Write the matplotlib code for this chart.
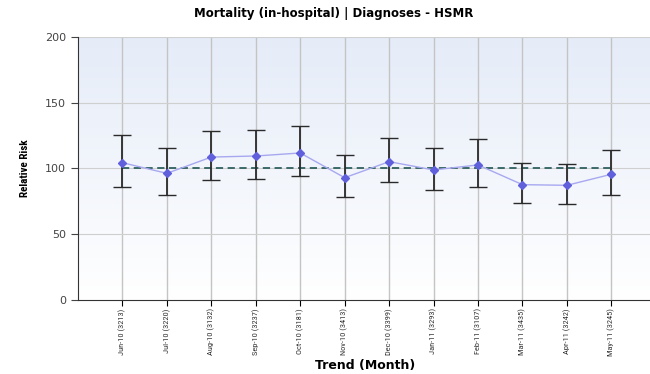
import numpy as np
import matplotlib.pyplot as plt

# values
months = ['Jun-10 (3213)', 'Jul-10 (3220)', 'Aug-10 (3132)', 'Sep-10 (3237)',
          'Oct-10 (3181)', 'Nov-10 (3413)', 'Dec-10 (3399)', 'Jan-11 (3293)',
          'Feb-11 (3107)', 'Mar-11 (3435)', 'Apr-11 (3242)', 'May-11 (3245)']
risk = [104.4, 96.3, 108.7, 109.5, 111.8, 93.0, 105.2, 98.9, 102.7, 87.7, 87.2, 95.6]
upper = [125.7, 115.8, 128.8, 129.5, 132.0, 110.5, 123.0, 115.8, 122.2, 104.4, 103.4, 113.8]
lower = [86.0, 79.6, 91.0, 91.8, 94.0, 78.0, 89.5, 83.9, 86.0, 73.5, 73.0, 79.6]
baseline = 100

narrow = ['Roboto Condensed', 'DejaVu Sans']

fig = plt.figure(figsize=(6.5, 3.74), dpi=100)
ax = fig.add_axes([0.12, 0.198, 0.88, 0.703])

x = np.arange(len(months))
risk = np.array(risk)
err = [risk - np.array(lower), np.array(upper) - risk]
xmax = 11.87

# background gradient, white at the bottom to pale blue at the top
grad = np.linspace(0, 1, 256).reshape(-1, 1)
top = np.array([0.898, 0.925, 0.973])
bot = np.array([1.0, 1.0, 1.0])
img = bot + (top - bot) * grad
ax.imshow(img[:, None, :].repeat(2, axis=1), origin='lower', aspect='auto',
          extent=[-1, xmax, 0, 200], zorder=0)

for xi in x:
    ax.axvline(xi, color='#c4c4c4', lw=1, zorder=1)
for yv in [50, 100, 150, 200]:
    ax.axhline(yv, color='#cfcfcf', lw=0.8, zorder=1)

ax.plot([x[0], x[-1]], [baseline, baseline], color='#2f6060', lw=1.3,
        ls=(0, (4, 2.5)), zorder=3)
ax.errorbar(x, risk, yerr=err, fmt='none', ecolor='#2a2a2a', elinewidth=1.3,
            capsize=6.5, capthick=1.0, zorder=4)
ax.plot(x, risk, color='#a8a8f0', lw=1, marker='D', markersize=4.3,
        markerfacecolor='#6060dd', markeredgecolor='#6060dd', zorder=5)

ax.set_xlim(-1, xmax)
ax.set_ylim(0, 200)
ax.set_yticks([0, 50, 100, 150, 200])
ax.set_xticks(x)
ax.set_xticklabels(months, rotation=90, family=narrow, fontsize=6, color='#333333')
ax.tick_params(axis='y', labelsize=8, colors='#444444', length=5, width=0.8)
ax.tick_params(axis='x', length=4, width=0.8, pad=2)

for s in ['top', 'right']:
    ax.spines[s].set_visible(False)
ax.spines['left'].set_color('#333333')
ax.spines['bottom'].set_color('#333333')

fig.text(25 / 650, 0.55, 'Relative Risk', family=narrow, fontweight='bold',
         fontsize=8, rotation=90, ha='center', va='center')
fig.text(365 / 650, 1 - 366 / 374, 'Trend (Month)', ha='center', va='center',
         fontweight='bold', fontsize=9)
fig.text(334 / 650, 1 - 14 / 374, 'Mortality (in-hospital) | Diagnoses - HSMR',
         ha='center', va='center', fontweight='bold', fontsize=8.5)

fig.savefig('out.png', dpi=100)
